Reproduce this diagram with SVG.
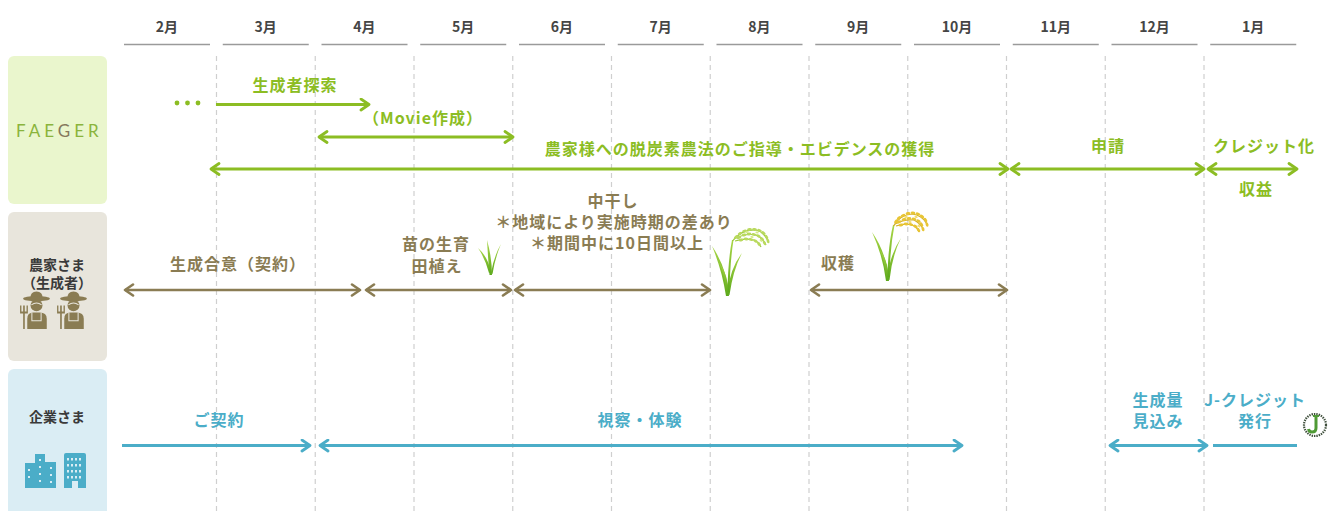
<svg xmlns="http://www.w3.org/2000/svg" width="1329" height="511" viewBox="0 0 1329 511">
  <style>
    .jp { font-family: "Noto Sans CJK JP", "Noto Sans", sans-serif; font-weight: 700; text-anchor: middle; }
    .month { font-size: 14px; fill: #454545; }
    .grid { stroke: #cfcfcf; stroke-width: 1.2; stroke-dasharray: 5 4; }
    .uline { stroke: #9a9a9a; stroke-width: 1.4; }
    .lbl { font-size: 16px; letter-spacing: 1px; }
    .g { fill: #8cbd23; }
    .b { fill: #8a7c53; }
    .c { fill: #4badc8; }
    .side { font-size: 14px; fill: #3a3a3a; }
    .ag { stroke: #8cbd23; stroke-width: 3; fill: none; }
    .ab { stroke: #8a7c53; stroke-width: 2.6; fill: none; }
    .ac { stroke: #4badc8; stroke-width: 3; fill: none; }
  </style>
  <defs>
    <marker id="mg" viewBox="0 0 12 14" refX="10" refY="7" markerWidth="12" markerHeight="14" markerUnits="userSpaceOnUse" orient="auto-start-reverse">
      <path d="M2,1.5 L10,7 L2,12.5" fill="none" stroke="#8cbd23" stroke-width="2.8" stroke-linecap="round" stroke-linejoin="round"/>
    </marker>
    <marker id="mb" viewBox="0 0 12 14" refX="10" refY="7" markerWidth="12" markerHeight="14" markerUnits="userSpaceOnUse" orient="auto-start-reverse">
      <path d="M2,1.5 L10,7 L2,12.5" fill="none" stroke="#8a7c53" stroke-width="2.6" stroke-linecap="round" stroke-linejoin="round"/>
    </marker>
    <marker id="mc" viewBox="0 0 12 14" refX="10" refY="7" markerWidth="12" markerHeight="14" markerUnits="userSpaceOnUse" orient="auto-start-reverse">
      <path d="M2,1.5 L10,7 L2,12.5" fill="none" stroke="#4badc8" stroke-width="2.8" stroke-linecap="round" stroke-linejoin="round"/>
    </marker>
    <linearGradient id="leaf" x1="0" y1="1" x2="0" y2="0">
      <stop offset="0" stop-color="#5da91c"/>
      <stop offset="1" stop-color="#a9d646"/>
    </linearGradient>
    <!-- one rice grain, reused along each ear -->
    <ellipse id="grain" cx="0" cy="0" rx="2.4" ry="1.4"/>
    <!-- farmer with hat and pitchfork -->
    <symbol id="farmer" viewBox="0 0 32 37" width="33" height="38">
      <g fill="#8a7c53">
        <path d="M10,7 Q10,0.5 16,0.5 Q22,0.5 22,7 Z"/>
        <ellipse cx="16" cy="7.5" rx="13" ry="2.6"/>
        <circle cx="16" cy="14" r="5.8"/>
        <path d="M7,37 L7,27 Q7,21 13,21 L19,21 Q26,21 26,27 L26,37 Z"/>
        <rect x="3" y="21" width="1.6" height="16"/>
        <path d="M0,14 h1.3 v6 h1.7 v-6 h1.6 v6 h1.7 v-6 h1.3 v8 h-7.6 Z"/>
      </g>
      <g stroke="#e8e5dc" stroke-width="1" fill="none">
        <path d="M11.5,21.5 L11.5,29 L20.5,29 L20.5,21.5"/>
        <path d="M11,13.5 Q16,10 21,13.5"/>
      </g>
    </symbol>
  </defs>

  <!-- month header -->
  <g id="months">
    <g class="uline">
      <line x1="124" y1="44.5" x2="210" y2="44.5"/>
      <line x1="222.75" y1="44.5" x2="308.75" y2="44.5"/>
      <line x1="321.5" y1="44.5" x2="407.5" y2="44.5"/>
      <line x1="420.25" y1="44.5" x2="506.25" y2="44.5"/>
      <line x1="519" y1="44.5" x2="605" y2="44.5"/>
      <line x1="617.75" y1="44.5" x2="703.75" y2="44.5"/>
      <line x1="716.5" y1="44.5" x2="802.5" y2="44.5"/>
      <line x1="815.25" y1="44.5" x2="901.25" y2="44.5"/>
      <line x1="914" y1="44.5" x2="1000" y2="44.5"/>
      <line x1="1012.75" y1="44.5" x2="1098.75" y2="44.5"/>
      <line x1="1111.5" y1="44.5" x2="1197.5" y2="44.5"/>
      <line x1="1210.25" y1="44.5" x2="1296.25" y2="44.5"/>
    </g>
    <g class="jp month">
      <text x="167" y="32">2月</text>
      <text x="265.75" y="32">3月</text>
      <text x="364.5" y="32">4月</text>
      <text x="463.25" y="32">5月</text>
      <text x="562" y="32">6月</text>
      <text x="660.75" y="32">7月</text>
      <text x="759.5" y="32">8月</text>
      <text x="858.25" y="32">9月</text>
      <text x="957" y="32">10月</text>
      <text x="1055.75" y="32">11月</text>
      <text x="1154.5" y="32">12月</text>
      <text x="1253.25" y="32">1月</text>
    </g>
  </g>

  <!-- dashed month dividers -->
  <g id="grid" class="grid">
    <line x1="216.5" y1="56" x2="216.5" y2="511"/>
    <line x1="315.25" y1="56" x2="315.25" y2="511"/>
    <line x1="414" y1="56" x2="414" y2="511"/>
    <line x1="512.75" y1="56" x2="512.75" y2="511"/>
    <line x1="611.5" y1="56" x2="611.5" y2="511"/>
    <line x1="710.25" y1="56" x2="710.25" y2="511"/>
    <line x1="809" y1="56" x2="809" y2="511"/>
    <line x1="907.75" y1="56" x2="907.75" y2="511"/>
    <line x1="1006.5" y1="56" x2="1006.5" y2="511"/>
    <line x1="1105.25" y1="56" x2="1105.25" y2="511"/>
    <line x1="1204" y1="56" x2="1204" y2="511"/>
  </g>

  <!-- row headers -->
  <g id="faeger">
    <rect x="8" y="56" width="99" height="148" rx="6" fill="#eaf6cd"/>
    <text x="16" y="136.5" font-family="Lato, 'Liberation Sans', sans-serif" font-size="17" letter-spacing="4" fill="#8ab43c">FAE<tspan fill="#86795c">G</tspan>ER</text>
  </g>
  <g id="farmers">
    <rect x="8" y="212" width="99" height="149" rx="6" fill="#e8e5dc"/>
    <text class="jp side" x="57" y="270">農家さま</text>
    <text class="jp side" x="57" y="288">（生成者）</text>
    <use href="#farmer" x="20" y="291"/>
    <use href="#farmer" x="57" y="291"/>
  </g>
  <g id="companies">
    <rect x="8" y="369" width="99" height="150" rx="6" fill="#daedf4"/>
    <text class="jp side" x="57" y="422">企業さま</text>
    <path d="M35,488 L35,454 L45,454 L45,462 L56,462 L56,488 Z M25,488 L25,463 L35,463 L35,488 Z" fill="#4badc8"/>
    <g fill="#daedf4">
      <rect x="28" y="469" width="2" height="2"/><rect x="28" y="476" width="2" height="2"/>
      <rect x="39" y="459" width="2" height="2"/><rect x="39" y="466" width="2" height="2"/><rect x="39" y="473" width="2" height="2"/><rect x="39" y="480" width="2" height="2"/>
      <rect x="50" y="467" width="2" height="2"/><rect x="50" y="474" width="2" height="2"/><rect x="50" y="481" width="2" height="2"/>
    </g>
    <path d="M64,488 L64,455 Q64,453 66,453 L84,453 Q86,453 86,455 L86,488 L78,488 L78,481 L72,481 L72,488 Z" fill="#4badc8"/>
    <g fill="#daedf4">
      <rect x="67" y="458" width="2" height="2.5"/><rect x="71" y="458" width="2" height="2.5"/><rect x="75" y="458" width="2" height="2.5"/><rect x="79" y="458" width="2" height="2.5"/>
      <rect x="67" y="464" width="2" height="2.5"/><rect x="71" y="464" width="2" height="2.5"/><rect x="75" y="464" width="2" height="2.5"/><rect x="79" y="464" width="2" height="2.5"/>
      <rect x="67" y="470" width="2" height="2.5"/><rect x="71" y="470" width="2" height="2.5"/><rect x="75" y="470" width="2" height="2.5"/><rect x="79" y="470" width="2" height="2.5"/>
      <rect x="67" y="476" width="2" height="2.5"/><rect x="71" y="476" width="2" height="2.5"/><rect x="75" y="476" width="2" height="2.5"/><rect x="79" y="476" width="2" height="2.5"/>
    </g>
  </g>

  <!-- connectors -->
  <g id="connectors">
    <!-- FAEGER row -->
    <g fill="#8cbd23">
      <circle cx="177" cy="103" r="2.4"/><circle cx="187.5" cy="103" r="2.4"/><circle cx="198" cy="103" r="2.4"/>
    </g>
    <line class="ag" x1="216" y1="104.5" x2="369" y2="104.5" marker-end="url(#mg)"/>
    <line class="ag" x1="319" y1="137" x2="513" y2="137" marker-start="url(#mg)" marker-end="url(#mg)"/>
    <line class="ag" x1="211" y1="169" x2="1008" y2="169" marker-start="url(#mg)" marker-end="url(#mg)"/>
    <line class="ag" x1="1011" y1="169" x2="1204" y2="169" marker-start="url(#mg)" marker-end="url(#mg)"/>
    <line class="ag" x1="1208" y1="169" x2="1297" y2="169" marker-start="url(#mg)" marker-end="url(#mg)"/>
    <!-- farmer row -->
    <line class="ab" x1="125" y1="290" x2="360" y2="290" marker-start="url(#mb)" marker-end="url(#mb)"/>
    <line class="ab" x1="366" y1="290" x2="511" y2="290" marker-start="url(#mb)" marker-end="url(#mb)"/>
    <line class="ab" x1="515" y1="290" x2="710" y2="290" marker-start="url(#mb)" marker-end="url(#mb)"/>
    <line class="ab" x1="811" y1="290" x2="1007" y2="290" marker-start="url(#mb)" marker-end="url(#mb)"/>
    <!-- company row -->
    <line class="ac" x1="122" y1="445.5" x2="310" y2="445.5" marker-end="url(#mc)"/>
    <line class="ac" x1="320" y1="445.5" x2="962" y2="445.5" marker-start="url(#mc)" marker-end="url(#mc)"/>
    <line class="ac" x1="1110" y1="445.5" x2="1207" y2="445.5" marker-start="url(#mc)" marker-end="url(#mc)"/>
    <line class="ac" x1="1213" y1="445.5" x2="1297" y2="445.5"/>
  </g>

  <!-- labels -->
  <g id="labels" class="jp lbl">
    <text class="g" x="295" y="91">生成者探索</text>
    <text class="g" x="423" y="124">（Movie作成）</text>
    <text class="g" x="740" y="155">農家様への脱炭素農法のご指導・エビデンスの獲得</text>
    <text class="g" x="1108" y="152">申請</text>
    <text class="g" x="1264" y="152">クレジット化</text>
    <text class="g" x="1256" y="195">収益</text>

    <text class="b" x="238" y="270">生成合意（契約）</text>
    <text class="b" x="436" y="250">苗の生育</text>
    <text class="b" x="437" y="272">田植え</text>
    <text class="b" x="613" y="207">中干し</text>
    <text class="b" x="614" y="228">＊地域により実施時期の差あり</text>
    <text class="b" x="617" y="249">＊期間中に10日間以上</text>
    <text class="b" x="838" y="269">収穫</text>

    <text class="c" x="219" y="426">ご契約</text>
    <text class="c" x="640" y="426">視察・体験</text>
    <text class="c" x="1158" y="406">生成量</text>
    <text class="c" x="1158" y="427">見込み</text>
    <text class="c" x="1255" y="406">J-クレジット</text>
    <text class="c" x="1255" y="427">発行</text>
  </g>

  <!-- rice seedling -->
  <g id="seedling" fill="url(#leaf)">
    <path d="M489.5,275 Q488,258 487,240 Q492,258 492,275 Z"/>
    <path d="M489,273 Q485,258 478,248 Q488,257 491,272 Z"/>
    <path d="M491,273 Q494,256 501,244 Q495,258 492.5,274 Z"/>
  </g>

  <!-- rice plant with green ear -->
  <g id="rice-green">
    <g fill="url(#leaf)">
      <path d="M726,296 Q722,270 712,246 Q727,268 729,296 Z"/>
      <path d="M727,294 Q730,268 742,253 Q733,270 729.5,295 Z"/>
      <path d="M726.5,295 Q725,275 719,262 Q729,276 728.5,295 Z"/>
      <path d="M727.5,292 Q728,260 732,240 L733.5,240 Q730,262 729.5,292 Z"/>
    </g>
    <g fill="none" stroke="#9cc93c" stroke-width="1.2">
      <path d="M732.5,241 Q742,229 756,230 Q764,232 768,241"/>
      <path d="M734,239 Q745,233 756,235 Q763,238 766,245"/>
      <path d="M735,241 Q745,238 754,240 Q759,242 761,247"/>
    </g>
    <g fill="#b9d95e">
      <use href="#grain" transform="translate(736 237) rotate(-40)"/>
      <use href="#grain" transform="translate(740 233.5) rotate(-28)"/>
      <use href="#grain" transform="translate(744.5 231) rotate(-15)"/>
      <use href="#grain" transform="translate(749.5 229.5) rotate(-5)"/>
      <use href="#grain" transform="translate(754.5 229.5) rotate(8)"/>
      <use href="#grain" transform="translate(759.5 230.5) rotate(20)"/>
      <use href="#grain" transform="translate(763.5 233) rotate(38)"/>
      <use href="#grain" transform="translate(766.5 237) rotate(55)"/>
      <use href="#grain" transform="translate(768 241) rotate(75)"/>
      <use href="#grain" transform="translate(739 237.5) rotate(-25)"/>
      <use href="#grain" transform="translate(744 235) rotate(-10)"/>
      <use href="#grain" transform="translate(749 234) rotate(0)"/>
      <use href="#grain" transform="translate(754 234.5) rotate(12)"/>
      <use href="#grain" transform="translate(758.5 236) rotate(28)"/>
      <use href="#grain" transform="translate(762 239) rotate(45)"/>
      <use href="#grain" transform="translate(764.5 243) rotate(65)"/>
      <use href="#grain" transform="translate(741 240) rotate(-10)"/>
      <use href="#grain" transform="translate(746 239) rotate(5)"/>
      <use href="#grain" transform="translate(751 239.5) rotate(15)"/>
      <use href="#grain" transform="translate(755.5 241) rotate(30)"/>
      <use href="#grain" transform="translate(759 244) rotate(50)"/>
    </g>
    <g fill="#d6eb8c">
      <use href="#grain" transform="translate(747 232) rotate(-8) scale(0.7)"/>
      <use href="#grain" transform="translate(757 232.5) rotate(15) scale(0.7)"/>
      <use href="#grain" transform="translate(752 237) rotate(10) scale(0.7)"/>
      <use href="#grain" transform="translate(761 240.5) rotate(40) scale(0.7)"/>
    </g>
  </g>

  <!-- ripe rice plant -->
  <g id="rice-ripe">
    <g fill="url(#leaf)">
      <path d="M886,281 Q883,256 872,232 Q887,254 889,281 Z"/>
      <path d="M887,279 Q890,254 901,238 Q892,256 889.5,280 Z"/>
      <path d="M886.5,280 Q885,262 880,250 Q889,262 888.5,280 Z"/>
      <path d="M887.5,277 Q888,246 893,225 L894.5,225 Q890,248 889.5,277 Z"/>
    </g>
    <g fill="none" stroke="#d3b12a" stroke-width="1.2">
      <path d="M893.5,226 Q900,215 912,214 Q922,215 927,224"/>
      <path d="M895,224 Q904,219 914,220 Q920,223 923,229"/>
      <path d="M896,226 Q905,223 912,225 Q917,227 919,232"/>
    </g>
    <g fill="#e8c535">
      <use href="#grain" transform="translate(896 221.5) rotate(-50)"/>
      <use href="#grain" transform="translate(899 218) rotate(-35)"/>
      <use href="#grain" transform="translate(903 215.5) rotate(-20)"/>
      <use href="#grain" transform="translate(908 213.5) rotate(-5)"/>
      <use href="#grain" transform="translate(913 213) rotate(5)"/>
      <use href="#grain" transform="translate(918 214) rotate(20)"/>
      <use href="#grain" transform="translate(922 216.5) rotate(35)"/>
      <use href="#grain" transform="translate(925.5 220) rotate(55)"/>
      <use href="#grain" transform="translate(927 224.5) rotate(75)"/>
      <use href="#grain" transform="translate(899 222) rotate(-25)"/>
      <use href="#grain" transform="translate(904 219.5) rotate(-10)"/>
      <use href="#grain" transform="translate(909 218.5) rotate(0)"/>
      <use href="#grain" transform="translate(914 219) rotate(15)"/>
      <use href="#grain" transform="translate(918.5 221) rotate(32)"/>
      <use href="#grain" transform="translate(921.5 224.5) rotate(55)"/>
      <use href="#grain" transform="translate(923 229) rotate(72)"/>
      <use href="#grain" transform="translate(901 225) rotate(-10)"/>
      <use href="#grain" transform="translate(906 224) rotate(5)"/>
      <use href="#grain" transform="translate(911 224.5) rotate(18)"/>
      <use href="#grain" transform="translate(915.5 226.5) rotate(35)"/>
      <use href="#grain" transform="translate(918.5 230) rotate(55)"/>
    </g>
    <g fill="#f3dc6a">
      <use href="#grain" transform="translate(906 217) rotate(-8) scale(0.7)"/>
      <use href="#grain" transform="translate(916 217) rotate(15) scale(0.7)"/>
      <use href="#grain" transform="translate(910 222) rotate(10) scale(0.7)"/>
      <use href="#grain" transform="translate(919 226) rotate(40) scale(0.7)"/>
    </g>
  </g>

  <!-- J-credit mark -->
  <g id="jcredit-mark">
    <circle cx="1315" cy="425" r="11" fill="none" stroke="#3d4d3a" stroke-width="2.2" stroke-dasharray="1.4 1"/>
    <circle cx="1315" cy="425" r="8" fill="#ffffff"/>
    <path d="M1316,416 L1316,428 Q1316,432 1312,432 Q1309,432 1308.5,429" fill="none" stroke="#4f9a35" stroke-width="3"/>
    <path d="M1313,416 L1319,416" stroke="#4f9a35" stroke-width="2"/>
  </g>
</svg>
